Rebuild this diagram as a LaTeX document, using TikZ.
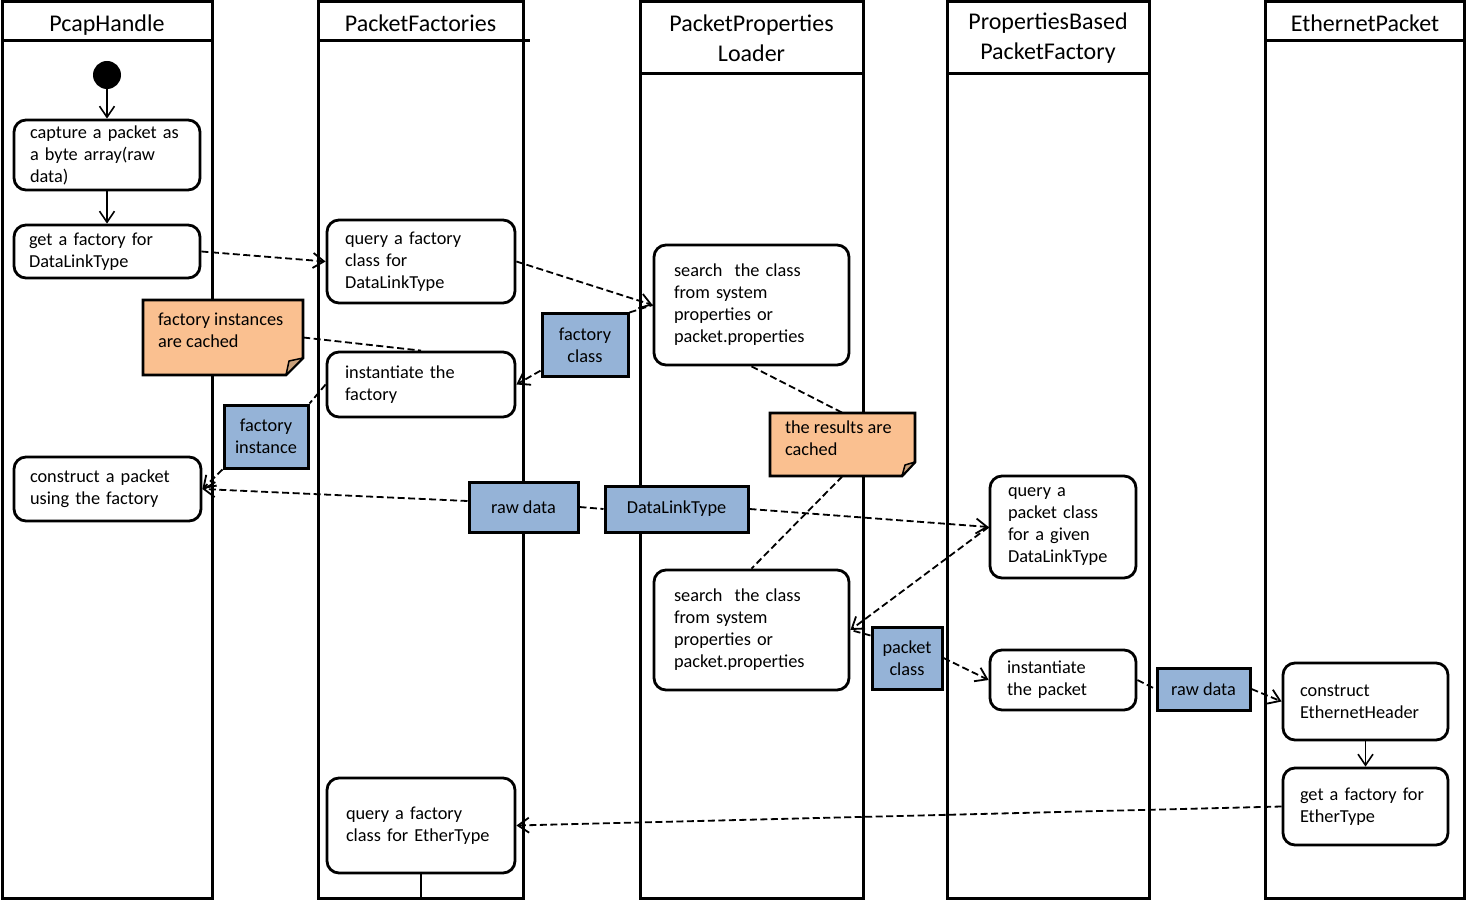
\documentclass[tikz,border=0pt]{standalone}
\usepackage{fontspec}
\setmainfont{Carlito}
\usetikzlibrary{arrows.meta}
\definecolor{objblue}{HTML}{95B3D7}
\definecolor{notefill}{HTML}{FAC090}
\definecolor{foldfill}{HTML}{C9A17B}
\begin{document}
\begin{tikzpicture}[x=1pt,y=-1pt,
  lane/.style={draw,line width=3pt},
  lanetitle/.style={font=\fontsize{24}{30}\selectfont, align=center, inner sep=0pt},
  act/.style={draw, line width=2.8pt, rounded corners=12pt, fill=white, align=left,
     font=\fontsize{18.3}{22}\selectfont, inner ysep=0pt,
     execute at begin node={\hyphenpenalty=10000 \exhyphenpenalty=10000 }},
  obj/.style={draw, line width=3pt, fill=objblue, align=center,
     font=\fontsize{18.3}{22}\selectfont, inner sep=0pt},
  notetext/.style={inner xsep=15pt, inner ysep=0pt, font=\fontsize{18.3}{22}\selectfont},
  noteshape/.style={draw, line width=2.8pt, fill=notefill, line join=miter},
  foldshape/.style={draw, line width=1.5pt, fill=foldfill, line join=round},
  ctrl/.style={line width=1.6pt, -{Straight Barb[length=11pt,width=15pt]}},
  obflow/.style={line width=1.8pt, dash pattern=on 7pt off 3.5pt},
  obarrow/.style={obflow, -{Straight Barb[length=11pt,width=15pt]}},
]
\useasboundingbox (0,0) rectangle (1467,901);

% ---------- swimlanes ----------
\draw[lane] (2,2) rectangle (212,898);      \draw[lane] (2,41) -- (212,41);
\draw[lane] (318,2) rectangle (523,898);    \draw[lane] (318,41) -- (530,41);
\draw[lane] (640,2) rectangle (863,898);    \draw[lane] (640,74) -- (863,74);
\draw[lane] (947,2) rectangle (1149,898);   \draw[lane] (947,74) -- (1149,74);
\draw[lane] (1265,2) rectangle (1464,898);  \draw[lane] (1265,41) -- (1464,41);

\node[lanetitle] (t1) at (107,25.5) {PcapHandle};
\node[lanetitle] (t2) at (420.5,23) {PacketFactories};
\node[lanetitle] (t3) at (751.5,38.5) {PacketProperties\\Loader};
\node[lanetitle] (t4) at (1048,38) {PropertiesBased\\PacketFactory};
\node[lanetitle] (t5) at (1365,23) {EthernetPacket};

% ---------- notes ----------
\filldraw[noteshape] (143,300) -- (303,300) -- (303,358) -- (286,375) -- (143,375) -- cycle;
\filldraw[foldshape] (286,375) -- (289,361) -- (303,358) -- cycle;
\node[notetext] (n1) at (223,337.5)
  {\parbox[c][75pt][t]{130pt}{\raggedright\rule{0pt}{25pt}factory instances\\are cached}};

\filldraw[noteshape] (770,413) -- (915,413) -- (915,462) -- (902,476) -- (770,476) -- cycle;
\filldraw[foldshape] (902,476) -- (905,465) -- (915,462) -- cycle;
\node[notetext] (n2) at (842.5,444.5)
  {\parbox[c][63pt][t]{115pt}{\raggedright\rule{0pt}{20pt}the results are\\cached}};

% ---------- activities ----------
\node[circle, fill=black, minimum size=28pt, inner sep=0pt] (start) at (107,75) {};
\node[act, text width=154pt, inner xsep=16pt, minimum height=70pt] (capture) at (107,155)
  {capture a packet as\\a byte array(raw\\data)};
\node[act, text width=156pt, inner xsep=15pt, minimum height=53pt] (getfac) at (107,251.5)
  {get a factory for\\DataLinkType};
\node[act, text width=152pt, inner xsep=18pt, minimum height=83pt] (query1) at (421,261.5)
  {query a factory\\class for\\DataLinkType};
\node[act, text width=155pt, inner xsep=20pt, minimum height=120pt] (search1) at (751.5,305)
  {search\ \ the class\\from system\\properties or\\packet.properties};
\node[act, text width=152pt, inner xsep=18pt, minimum height=65pt] (instf) at (421,384.5)
  {instantiate the\\factory};
\node[act, text width=155pt, inner xsep=16pt, minimum height=64pt] (construct) at (107.5,489)
  {construct a packet\\using the factory};
\node[act, text width=110pt, inner xsep=18pt, minimum height=102pt] (query2) at (1063,527)
  {query a\\packet class\\for a given\\DataLinkType};
\node[act, text width=155pt, inner xsep=20pt, minimum height=120pt] (search2) at (751.5,630)
  {search\ \ the class\\from system\\properties or\\packet.properties};
\node[act, text width=112pt, inner xsep=17pt, minimum height=60pt] (instp) at (1063,680)
  {instantiate\\the packet};
\node[act, text width=131pt, inner xsep=17pt, minimum height=77pt] (ceh) at (1365.5,701.5)
  {construct\\EthernetHeader};
\node[act, text width=131pt, inner xsep=17pt, minimum height=77pt] (gfe) at (1365.5,806.5)
  {get a factory for\\EtherType};
\node[act, text width=150pt, inner xsep=19pt, minimum height=95pt] (qet) at (421,825.5)
  {query a factory\\class for EtherType};
\coordinate (qend) at (421,898);

% ---------- objects ----------
\node[obj, minimum width=86pt, minimum height=62pt] (fclass) at (585,345) {factory\\class};
\node[obj, minimum width=84pt, minimum height=63pt] (finst) at (266,436.5) {factory\\instance};
\node[obj, minimum width=109pt, minimum height=50pt] (raw1) at (523.5,507) {raw data};
\node[obj, minimum width=143pt, minimum height=46pt] (dlt) at (676.5,509) {DataLinkType};
\node[obj, minimum width=70pt, minimum height=62pt] (pclass) at (907,658) {packet\\class};
\node[obj, minimum width=93pt, minimum height=42pt] (raw2) at (1203.5,689) {raw data};

% ---------- control flow ----------
\draw[ctrl] (start) -- (capture);
\draw[ctrl] (capture) -- (getfac);
\draw[ctrl] (ceh) -- (gfe);
\draw[line width=1.6pt] (qet.south) -- (qend);

% ---------- object flow / dashed ----------
\draw[obarrow] (getfac.east) -- (query1.west);
\draw[obarrow] (query1.east) -- (search1.west);
\draw[obflow] (fclass.north east) -- (search1.west);
\draw[obarrow] (fclass.-150) -- (instf.east);
\draw[obflow] (n1.east) -- (instf.north);
\draw[obflow] (instf.west) -- (finst.north east);
\draw[obarrow] (finst.south west) -- (construct.east);
\draw[obarrow] ([yshift=6pt]raw1.west) -- (construct.east);
\draw[obflow] (raw1.east) -- (dlt.west);
\draw[obarrow] (dlt.east) -- (query2.west);
\draw[obflow] (search1.south) -- (n2.north);
\draw[obflow] (n2.south) -- (search2.north);
\draw[obarrow] (query2.west) -- (search2.east);
\draw[obflow] ([yshift=-10pt]pclass.north west) -- (search2.east);
\draw[obarrow] (pclass.east) -- (instp.west);
\draw[obflow] (instp.east) -- (raw2.west);
\draw[obarrow] (raw2.east) -- (ceh.west);
\draw[obarrow] (gfe.west) -- (qet.east);
\end{tikzpicture}
\end{document}
